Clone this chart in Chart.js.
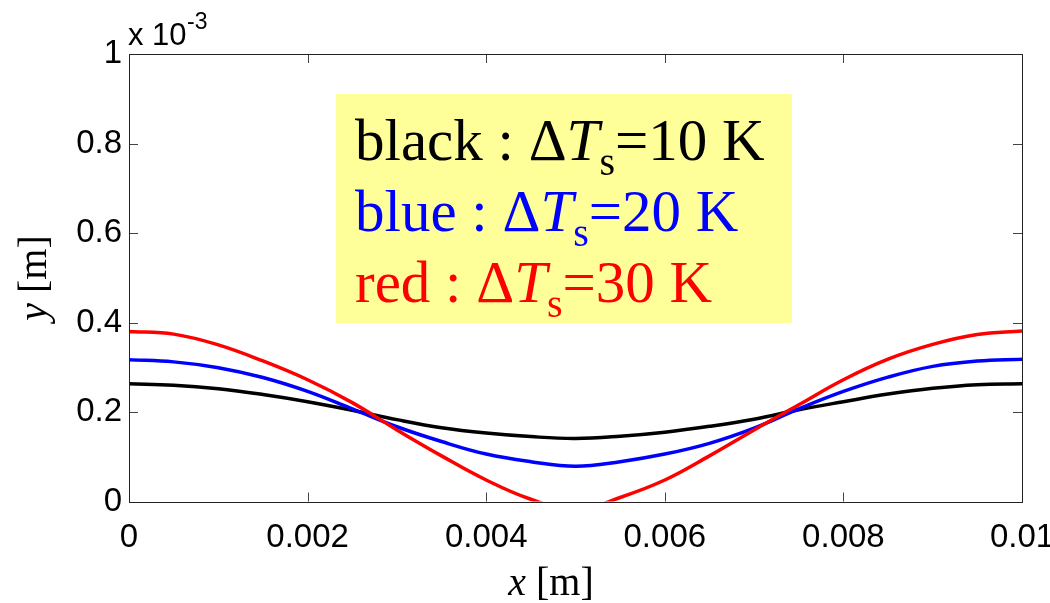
<!DOCTYPE html>
<html>
<head>
<meta charset="utf-8">
<script src="https://cdn.jsdelivr.net/npm/chart.js"></script>
<style>
  html, body { margin: 0; padding: 0; background: #fff; }
  #wrap { width: 1050px; height: 603px; position: relative; }
</style>
</head>
<body>
<div id="wrap"><canvas id="chart"></canvas></div>
<script>
// ── Data (y values in units of 1e-3 m, as the axis shows "x 10^-3")
const xValues = [0, 0.0005, 0.001, 0.0015, 0.002, 0.0025, 0.003, 0.0035, 0.004, 0.0045, 0.005,
                 0.0055, 0.006, 0.0065, 0.007, 0.0075, 0.008, 0.0085, 0.009, 0.0095, 0.01];
const blackY = [0.263, 0.260, 0.252, 0.239, 0.223, 0.204, 0.183, 0.165, 0.153, 0.145, 0.141,
                0.146, 0.155, 0.168, 0.184, 0.205, 0.223, 0.240, 0.253, 0.261, 0.263];
const blueY  = [0.317, 0.312, 0.299, 0.277, 0.246, 0.207, 0.167, 0.134, 0.106, 0.089, 0.079,
                0.089, 0.106, 0.130, 0.164, 0.207, 0.246, 0.278, 0.302, 0.314, 0.318];
const redY   = [0.380, 0.374, 0.350, 0.314, 0.272, 0.221, 0.160, 0.102, 0.048, 0.005, -0.020,
                0.009, 0.048, 0.102, 0.160, 0.216, 0.272, 0.318, 0.351, 0.373, 0.381];

const xTicks = [0, 0.002, 0.004, 0.006, 0.008, 0.01];
const xTickLabels = ['0', '0.002', '0.004', '0.006', '0.008', '0.01'];
const yTicks = [0, 0.2, 0.4, 0.6, 0.8, 1];
const yTickLabels = ['0', '0.2', '0.4', '0.6', '0.8', '1'];

const legendLines = [
  { name: 'black', value: '10', color: '#000000' },
  { name: 'blue',  value: '20', color: '#0000ff' },
  { name: 'red',   value: '30', color: '#ff0000' },
];

const toPoints = ys => xValues.map((x, i) => ({ x, y: ys[i] }));

Chart.defaults.font.family = "'Liberation Sans', Arial, sans-serif";
Chart.defaults.color = '#000';

// ── white background, MATLAB-like box with inward ticks, labels, yellow legend
const matlabFrame = {
  id: 'matlabFrame',
  beforeDraw(chart) {
    const c = chart.ctx;
    c.save();
    c.fillStyle = '#fff';
    c.fillRect(0, 0, chart.width, chart.height);
    c.restore();
  },
  afterDatasetsDraw(chart) {
    const c = chart.ctx;
    const a = chart.chartArea;
    const xs = chart.scales.x, ys = chart.scales.y;
    c.save();

    // inward tick marks on all four sides
    c.strokeStyle = '#444';
    c.lineWidth = 1;
    c.beginPath();
    xTicks.forEach(v => {
      const px = Math.round(xs.getPixelForValue(v)) + 0.5;
      c.moveTo(px, a.bottom); c.lineTo(px, a.bottom - 9);
      c.moveTo(px, a.top);    c.lineTo(px, a.top + 9);
    });
    yTicks.forEach(v => {
      const py = Math.round(ys.getPixelForValue(v)) + 0.5;
      c.moveTo(a.left, py);  c.lineTo(a.left + 9, py);
      c.moveTo(a.right, py); c.lineTo(a.right - 9, py);
    });
    c.stroke();

    // box
    c.strokeStyle = '#222';
    c.strokeRect(Math.round(a.left) + 0.5, Math.round(a.top) + 0.5,
                 Math.round(a.right - a.left), Math.round(a.bottom - a.top));

    // exponent label
    c.fillStyle = '#000';
    c.textBaseline = 'alphabetic';
    c.textAlign = 'left';
    c.font = "31px 'Liberation Sans'";
    c.fillText('x 10', 128, 45);
    c.font = "23px 'Liberation Sans'";
    c.fillText('-3', 187, 29);

    // axis titles
    const serif = "'Liberation Serif', 'Times New Roman', serif";
    const measure = (v, rest) => {
      c.font = 'italic 40px ' + serif;
      const w1 = c.measureText(v).width;
      c.font = '40px ' + serif;
      const w2 = c.measureText(rest).width;
      return { w1, total: w1 + w2 };
    };
    let m = measure('x', ' [m]');
    let sx = 551 - m.total / 2;
    c.font = 'italic 40px ' + serif; c.fillText('x', sx, 595);
    c.font = '40px ' + serif; c.fillText(' [m]', sx + m.w1, 595);

    c.save();
    c.translate(46, 278);
    c.rotate(-Math.PI / 2);
    m = measure('y', ' [m]');
    sx = -m.total / 2;
    c.font = 'italic 40px ' + serif; c.fillText('y', sx, 0);
    c.font = '40px ' + serif; c.fillText(' [m]', sx + m.w1, 0);
    c.restore();

    // legend box
    c.fillStyle = '#ffff99';
    c.fillRect(336, 94, 456, 229);
    const baselines = [160, 231, 302];
    legendLines.forEach((ln, i) => {
      let x = 355;
      const y = baselines[i];
      c.fillStyle = ln.color;
      c.font = '59px ' + serif;
      const head = ln.name + ' : \u0394';
      c.fillText(head, x, y);
      x += c.measureText(head).width;
      c.font = 'italic 59px ' + serif;
      c.fillText('T', x, y);
      x += c.measureText('T').width;
      c.font = '40px ' + serif;
      c.fillText('s', x, y + 15);
      x += c.measureText('s').width;
      c.font = '59px ' + serif;
      c.fillText('=' + ln.value + ' K', x, y);
    });

    c.restore();
  }
};

new Chart(document.getElementById('chart'), {
  type: 'line',
  data: {
    datasets: [
      { label: 'red',   data: toPoints(redY),   borderColor: '#ff0000' },
      { label: 'blue',  data: toPoints(blueY),  borderColor: '#0000ff' },
      { label: 'black', data: toPoints(blackY), borderColor: '#000000' },
    ]
  },
  options: {
    responsive: true,
    maintainAspectRatio: false,
    animation: false,
    layout: { padding: { top: 54, right: 28, left: 0, bottom: 0 } },
    elements: {
      line: { borderWidth: 3.5, tension: 0.4, fill: false },
      point: { radius: 0, hoverRadius: 0 }
    },
    plugins: {
      legend: { display: false },
      tooltip: { enabled: false }
    },
    scales: {
      x: {
        type: 'linear',
        min: 0, max: 0.01,
        grid: { display: false, drawTicks: false },
        border: { display: false },
        afterBuildTicks: s => { s.ticks = xTicks.map(v => ({ value: v })); },
        ticks: {
          padding: 17,
          maxRotation: 0,
          font: { size: 33 },
          color: '#000',
          callback: (v, i) => xTickLabels[i]
        },
        afterFit: s => { s.height = 101.5; s.paddingLeft = 0; s.paddingRight = 0; }
      },
      y: {
        type: 'linear',
        min: 0, max: 1,
        grid: { display: false, drawTicks: false },
        border: { display: false },
        afterBuildTicks: s => { s.ticks = yTicks.map(v => ({ value: v })); },
        ticks: {
          padding: 7,
          font: { size: 33 },
          color: '#000',
          callback: (v, i) => yTickLabels[i]
        },
        afterFit: s => { s.width = 129; s.paddingTop = 0; s.paddingBottom = 0; }
      }
    }
  },
  plugins: [matlabFrame]
});
</script>
</body>
</html>
